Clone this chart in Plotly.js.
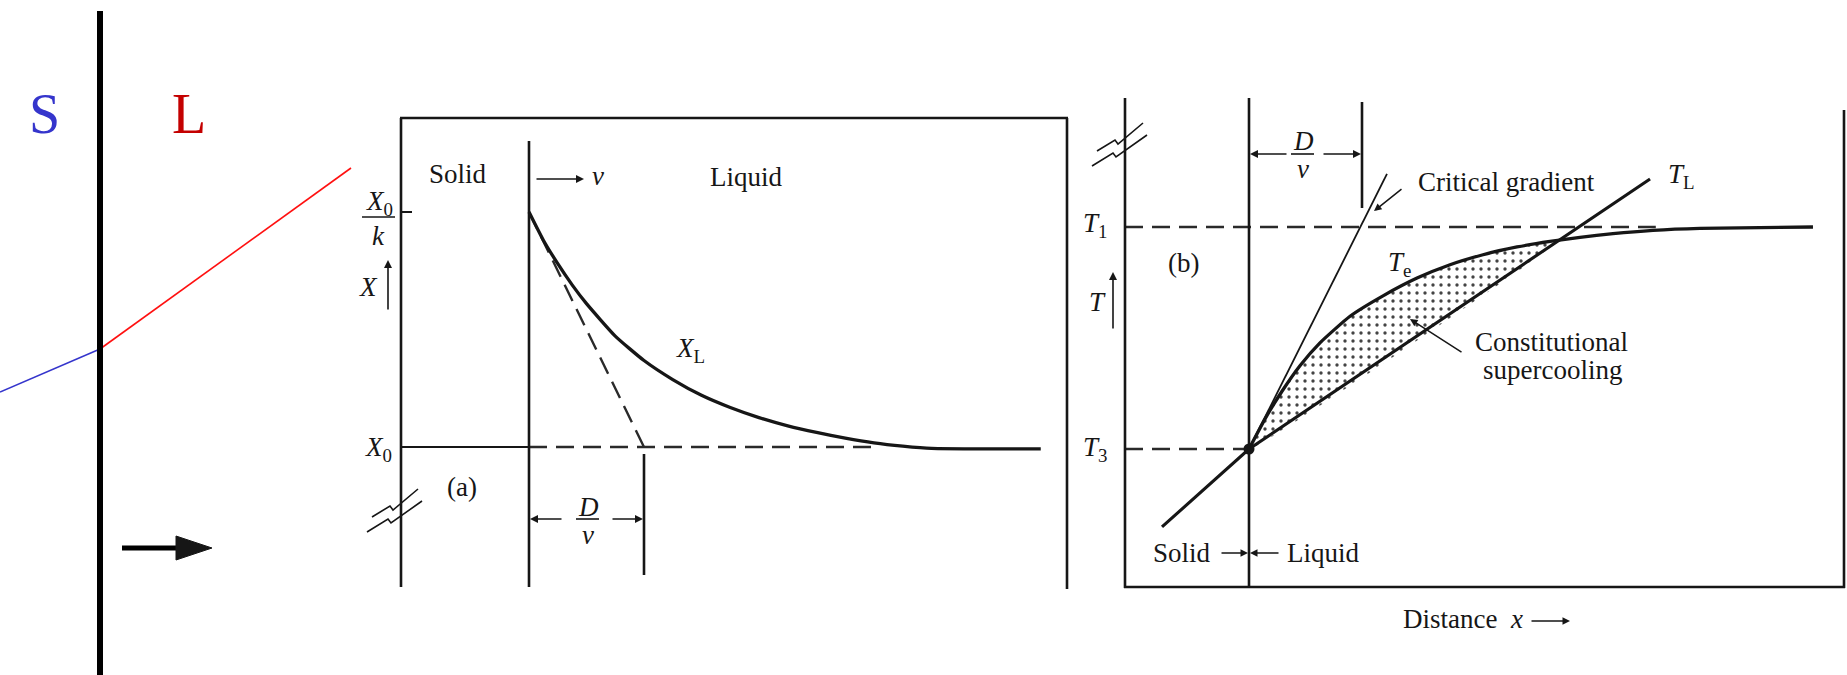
<!DOCTYPE html>
<html>
<head>
<meta charset="utf-8">
<script src="https://cdn.plot.ly/plotly-3.0.1.min.js"></script>
<style>
  html, body { margin: 0; padding: 0; background: #ffffff; }
  #chart { width: 1847px; height: 675px; }
</style>
</head>
<body>
<div id="chart"></div>
<script>
// ---- Left sketch: solute profile across the solid/liquid interface ----
const slSolidX  = [-1, 0];
const slSolidC  = [2.83, 3.26];
const slLiquidX = [0, 2.51];
const slLiquidC = [3.26, 5.07];

// ---- Panel (a): liquid composition ahead of the interface ----
// distance in units of D/v, composition in units of X0 (k = 0.5)
const aDist = [0, 0.125, 0.25, 0.375, 0.5, 0.75, 1, 1.25, 1.5, 1.75, 2, 2.25, 2.5, 2.75, 3, 3.25, 3.5, 4.45];
const aXL   = [2.0, 1.88, 1.78, 1.69, 1.61, 1.472, 1.368, 1.287, 1.22, 1.168, 1.125, 1.09, 1.062, 1.038, 1.018, 1.004, 0.994, 0.992];
const aTangentX = [0, 1];
const aTangentC = [2, 1];
const aX0 = 1;
const aX0DashEnd = 3.03;

// ---- Panel (b): equilibrium liquidus vs. actual temperature ----
// distance in units of D/v, temperature scaled so that T3 = 0, T1 = 1
const bDist = [0, 0.142, 0.292, 0.451, 0.628, 0.894, 1.186, 1.487, 1.779, 2.071, 2.372, 2.664, 2.929, 3.221, 3.575, 3.991, 4.991];
const bTe   = [0, 0.136, 0.26, 0.375, 0.478, 0.598, 0.69, 0.77, 0.83, 0.875, 0.91, 0.935, 0.953, 0.97, 0.985, 0.994, 1.0];
const bTLx  = [-0.77, 0, 3.549];
const bTL   = [-0.351, 0, 1.216];
const bCritX = [0, 1.221];
const bCrit  = [0, 1.239];
const bT1 = 1;
const bT3 = 0;
const bT1DashEnd = 3.6;

// ---- page geometry ----
const W = 1847, H = 675;
const INK = '#161616';
const DASH = '18px,9px';
const SERIF = '"Liberation Serif", "DejaVu Serif", serif';
const px = v => v / W;
const py = v => 1 - v / H;

// axis windows (pixel box of each panel and its data range)
const aRangeX = [(401 - 529) / 115, (1067 - 529) / 115];
const aRangeY = [1 + (447 - 587) / 235, 1 + (447 - 118) / 235];
const bRangeX = [(1125 - 1249) / 113, (1844 - 1249) / 113];
const bRangeY = [(449 - 587) / 222, (449 - 97) / 222];

// region where the actual temperature lies below the liquidus
const tlSlope = bTL[2] / bTLx[2];
let cross = null;
for (let i = 1; i < bDist.length - 1 && !cross; i++) {
  const d0 = bTe[i] - tlSlope * bDist[i];
  const d1 = bTe[i + 1] - tlSlope * bDist[i + 1];
  if (d0 > 0 && d1 <= 0) {
    const t = d0 / (d0 - d1);
    const xc = bDist[i] + t * (bDist[i + 1] - bDist[i]);
    cross = { x: xc, y: tlSlope * xc, idx: i };
  }
}
const fillX = bDist.slice(0, cross.idx + 1).concat([cross.x, 0]);
const fillY = bTe.slice(0, cross.idx + 1).concat([cross.y, 0]);

const traces = [
  // left sketch
  { x: slSolidX, y: slSolidC, xaxis: 'x', yaxis: 'y', mode: 'lines',
    line: { color: '#3535cc', width: 1.6 }, hoverinfo: 'skip' },
  { x: slLiquidX, y: slLiquidC, xaxis: 'x', yaxis: 'y', mode: 'lines',
    line: { color: '#ff1010', width: 1.6 }, hoverinfo: 'skip' },

  // panel (a)
  { x: [aRangeX[0], 0], y: [aX0, aX0], xaxis: 'x2', yaxis: 'y2', mode: 'lines',
    line: { color: INK, width: 2.2 }, hoverinfo: 'skip' },
  { x: [0, aX0DashEnd], y: [aX0, aX0], xaxis: 'x2', yaxis: 'y2', mode: 'lines',
    line: { color: '#2a2a2a', width: 2.4, dash: DASH }, hoverinfo: 'skip' },
  { x: aTangentX, y: aTangentC, xaxis: 'x2', yaxis: 'y2', mode: 'lines',
    line: { color: '#2a2a2a', width: 2.4, dash: DASH }, hoverinfo: 'skip' },
  { x: aDist, y: aXL, xaxis: 'x2', yaxis: 'y2', mode: 'lines',
    line: { color: INK, width: 3.3, shape: 'spline', smoothing: 0.5 }, hoverinfo: 'skip' },

  // panel (b)
  { x: fillX, y: fillY, xaxis: 'x3', yaxis: 'y3', mode: 'lines', fill: 'toself',
    fillcolor: 'rgba(255,255,255,0)',
    fillpattern: { shape: '.', size: 8, solidity: 0.14, fgcolor: '#444', bgcolor: 'rgba(255,255,255,0)' },
    line: { width: 0, shape: 'spline', smoothing: 0.5 }, hoverinfo: 'skip' },
  { x: [bRangeX[0], bT1DashEnd], y: [bT1, bT1], xaxis: 'x3', yaxis: 'y3', mode: 'lines',
    line: { color: '#2a2a2a', width: 2.4, dash: DASH }, hoverinfo: 'skip' },
  { x: [bRangeX[0], 0], y: [bT3, bT3], xaxis: 'x3', yaxis: 'y3', mode: 'lines',
    line: { color: '#2a2a2a', width: 2.4, dash: DASH }, hoverinfo: 'skip' },
  { x: bCritX, y: bCrit, xaxis: 'x3', yaxis: 'y3', mode: 'lines',
    line: { color: INK, width: 1.8 }, hoverinfo: 'skip' },
  { x: bTLx, y: bTL, xaxis: 'x3', yaxis: 'y3', mode: 'lines',
    line: { color: INK, width: 3.1 }, hoverinfo: 'skip' },
  { x: bDist, y: bTe, xaxis: 'x3', yaxis: 'y3', mode: 'lines',
    line: { color: INK, width: 3.3, shape: 'spline', smoothing: 0.5 }, hoverinfo: 'skip' },
  { x: [0], y: [bT3], xaxis: 'x3', yaxis: 'y3', mode: 'markers',
    marker: { color: INK, size: 11 }, hoverinfo: 'skip' }
];

function seg(x0, y0, x1, y1, w, color) {
  return { type: 'line', xref: 'paper', yref: 'paper',
    x0: px(x0), y0: py(y0), x1: px(x1), y1: py(y1),
    line: { color: color || INK, width: w } };
}
function poly(pts, w, filled) {
  const d = pts.map((p, i) => (i ? 'L ' : 'M ') + px(p[0]) + ' ' + py(p[1])).join(' ') + (filled ? ' Z' : '');
  return { type: 'path', xref: 'paper', yref: 'paper', path: d,
    line: { color: INK, width: w }, fillcolor: filled ? INK : 'rgba(0,0,0,0)' };
}
function arrow(tipX, tipY, tailX, tailY, w, head, size) {
  return { xref: 'paper', yref: 'paper', x: px(tipX), y: py(tipY),
    ax: tailX - tipX, ay: tailY - tipY, axref: 'pixel', ayref: 'pixel',
    text: '', showarrow: true, arrowhead: head || 2, arrowsize: size || 1,
    arrowwidth: w || 1.6, arrowcolor: INK, standoff: 0, startstandoff: 0 };
}
function label(x, y, text, size, extra) {
  return Object.assign({ xref: 'paper', yref: 'paper', x: px(x), y: py(y),
    text: text, showarrow: false, xanchor: 'center', yanchor: 'middle',
    font: { family: SERIF, size: size || 27, color: INK } }, extra || {});
}

const shapes = [
  // left sketch: interface and growth direction
  seg(100, 11, 100, 675, 6, '#000'),
  seg(122, 548, 182, 548, 5, '#000'),
  poly([[176, 536], [212, 548], [176, 560]], 1, true),

  // panel (a) frame and interface
  seg(401, 118, 401, 587, 2.6),
  seg(400, 118, 1068, 118, 2.6),
  seg(1067, 118, 1067, 589, 2.6),
  seg(529, 141, 529, 587, 2.6),
  seg(644, 454, 644, 575, 2.6),
  seg(401, 212, 412, 212, 2),
  seg(362, 217, 395, 217, 1.6),
  seg(576, 519, 599, 519, 1.6),
  poly([[372, 517], [390, 506], [393, 510], [418, 489]], 1.6),
  poly([[367, 532], [388, 519], [391, 523], [422, 501]], 1.6),

  // panel (b) frame and interface
  seg(1125, 98, 1125, 588, 2.6),
  seg(1124, 587, 1845, 587, 2.6),
  seg(1844, 110, 1844, 588, 2.6),
  seg(1249, 98, 1249, 587, 2.6),
  seg(1362, 102, 1362, 208, 2.6),
  seg(1291, 154, 1314, 154, 1.6),
  poly([[1097, 151], [1115, 140], [1118, 144], [1143, 123]], 1.6),
  poly([[1092, 166], [1113, 153], [1116, 157], [1147, 135]], 1.6)
];

const sub = (v, s) => '<i>' + v + '</i><sub>' + s + '</sub>';

const annotations = [
  // left sketch
  label(44, 114, 'S', 56, { font: { family: SERIF, size: 56, color: '#3535cc' } }),
  label(189, 114, 'L', 56, { font: { family: SERIF, size: 56, color: '#c40000' } }),

  // panel (a)
  label(458, 174, 'Solid'),
  arrow(584, 179, 535, 179, 1.6, 2, 1),
  label(598, 176, '<i>ν</i>'),
  label(746, 177, 'Liquid'),
  label(379, 203, sub('X', '0')),
  label(378, 236, '<i>k</i>'),
  label(368, 287, '<i>X</i>'),
  arrow(388, 260, 388, 311, 1.6, 2, 1),
  label(378, 449, sub('X', '0')),
  label(462, 487, '(a)'),
  label(690, 350, sub('X', 'L')),
  label(588, 507, '<i>D</i>'),
  label(588, 535, '<i>ν</i>'),
  arrow(530, 519, 563, 519, 1.6, 2, 1),
  arrow(643, 519, 611, 519, 1.6, 2, 1),

  // panel (b)
  label(1095, 225, sub('T', '1')),
  label(1095, 449, sub('T', '3')),
  label(1097, 302, '<i>T</i>'),
  arrow(1113, 272, 1113, 330, 1.6, 2, 1),
  label(1183, 263, '(b)'),
  label(1303, 141, '<i>D</i>'),
  label(1303, 169, '<i>ν</i>'),
  arrow(1250, 154, 1288, 154, 1.6, 2, 1),
  arrow(1361, 154, 1322, 154, 1.6, 2, 1),
  label(1416, 182, 'Critical gradient', 27, { xanchor: 'left' }),
  arrow(1374, 211, 1403, 188, 1.5, 2, 1),
  label(1666, 176, sub('T', 'L'), 27, { xanchor: 'left' }),
  label(1386, 264, sub('T', 'e'), 27, { xanchor: 'left' }),
  label(1551, 342, 'Constitutional'),
  label(1552, 370, 'supercooling'),
  arrow(1410, 319, 1463, 353, 1.5, 2, 1),
  label(1182, 553, 'Solid'),
  arrow(1248, 553, 1220, 553, 1.5, 2, 1),
  arrow(1250, 553, 1280, 553, 1.5, 2, 1),
  label(1285, 553, 'Liquid', 27, { xanchor: 'left' }),
  label(1401, 619, 'Distance  <i>x</i>', 27, { xanchor: 'left' }),
  arrow(1570, 621, 1530, 621, 1.5, 2, 1)
];

const hidden = (extra) => Object.assign({ visible: false, fixedrange: true }, extra);

const layout = {
  width: W, height: H,
  margin: { l: 0, r: 0, t: 0, b: 0, pad: 0 },
  paper_bgcolor: '#ffffff', plot_bgcolor: 'rgba(0,0,0,0)',
  showlegend: false,
  xaxis:  hidden({ domain: [0, 400 / W], range: [-1, 3], anchor: 'y' }),
  yaxis:  hidden({ domain: [0, 1], range: [0, 6.75], anchor: 'x' }),
  xaxis2: hidden({ domain: [401 / W, 1067 / W], range: aRangeX, anchor: 'y2' }),
  yaxis2: hidden({ domain: [1 - 587 / H, 1 - 118 / H], range: aRangeY, anchor: 'x2' }),
  xaxis3: hidden({ domain: [1125 / W, 1844 / W], range: bRangeX, anchor: 'y3' }),
  yaxis3: hidden({ domain: [1 - 587 / H, 1 - 97 / H], range: bRangeY, anchor: 'x3' }),
  shapes: shapes,
  annotations: annotations
};

Plotly.newPlot('chart', traces, layout, { staticPlot: true, displayModeBar: false });
</script>
</body>
</html>
